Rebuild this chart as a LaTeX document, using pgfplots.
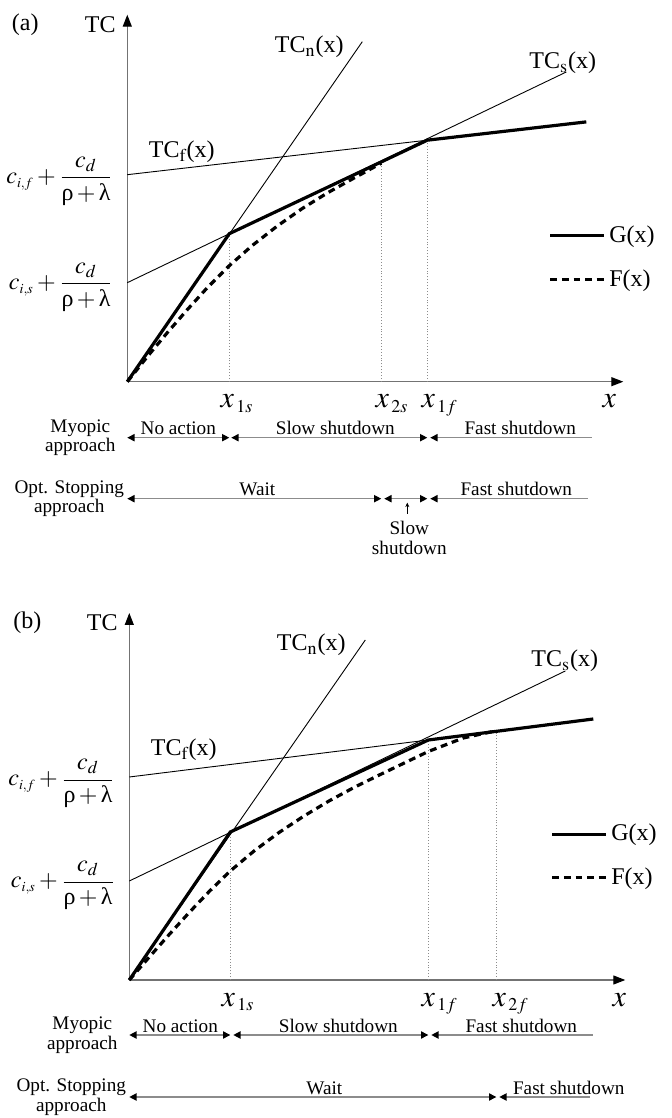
\documentclass[border=0pt]{standalone}
\usepackage{mathptmx}
\usepackage[no-math]{fontspec}
\setmainfont{Liberation Serif}
\usepackage{pgfplots}
\pgfplotsset{compat=1.18}
\usetikzlibrary{arrows.meta}

\newcommand\Lsize{\fontsize{12}{14}\selectfont}
\newcommand\Xsize{\fontsize{15}{17}\selectfont}
\newcommand\Rsize{\fontsize{9.6}{9.8}\selectfont}
\newcommand\Ylab[1]{$c_{\scriptscriptstyle i,#1}+\displaystyle\frac{c_d}{\mbox{ρ}+\mbox{λ}}$}
\newcommand\Xlab[1]{$x_{\,\scriptscriptstyle #1}$}

\tikzset{
  hd/.tip={Triangle[length=3.6pt,width=3.6pt,color=black]},
  rowline/.style={black!45, line width=0.6pt},
}
\pgfplotsset{
  panel/.style={
    x=0.5pt, y=0.5pt, xmin=0, xmax=496, ymin=0, ymax=367,
    axis lines*=left,
    axis line style={draw=black!55, line width=0.6pt, -{Triangle[length=6pt,width=4.5pt,color=black]}},
    xtick=\empty, ytick=\empty,
    clip=false, anchor=origin,
    legend style={draw=none, fill=none, at={(axis cs:421,124)}, anchor=west,
      font=\Lsize, row sep=8pt, inner sep=0pt, nodes={inner sep=2pt}},
    legend cell align=left,
    legend image code/.code={\draw[##1] (0pt,0pt) -- (26.7pt,0pt);},
  },
  Gline/.style={black, line width=1.6pt},
  Fline/.style={black, line width=1.6pt, dash pattern=on 3.4pt off 2.4pt},
  thinl/.style={black, line width=0.45pt},
  vline/.style={black!45, line width=0.45pt, densely dotted},
}

\begin{document}
\begin{tikzpicture}
\useasboundingbox (0,0) rectangle (335.5pt,559pt);

% ---------------- panel (a) ----------------
\begin{axis}[panel, at={(63.65pt,368.15pt)}]
\addplot[vline, forget plot] coordinates {(102,0) (102,148)};
\addplot[vline, forget plot] coordinates {(254,0) (254,219)};
\addplot[vline, forget plot] coordinates {(300,0) (300,241.5)};
\addplot[thinl, forget plot] coordinates {(0,0) (235,340)};
\addplot[thinl, forget plot] coordinates {(0,99) (439,309.7)};
\addplot[thinl, forget plot] coordinates {(0,207) (300,241.5)};
\addplot[Gline] coordinates {(0,0) (102,148) (300,241.5) (459,259.8)};
\addlegendentry{G(x)}
\addplot[Fline] coordinates {(0,0) (20,25) (40,49) (60,72) (80,94) (102,116) (125,136.2) (150,155.7) (175,173.2) (200,188.7) (225,202.7) (254,218.5)};
\addlegendentry{F(x)}

\node[font=\Lsize] at (axis cs:-102,357) {(a)};
\node[font=\Lsize] at (axis cs:-27,357) {TC};
\node[font=\Lsize] at (axis cs:182,335) {TC$_{\mathrm{n}}$(x)};
\node[font=\Lsize] at (axis cs:435.5,319) {TC$_{\mathrm{s}}$(x)};
\node[font=\Lsize] at (axis cs:54.5,230) {TC$_{\mathrm{f}}$(x)};
\node[font=\Lsize, anchor=base east, inner sep=0pt] at (axis cs:-14,198) {\Ylab{f}};
\node[font=\Lsize, anchor=base east, inner sep=0pt] at (axis cs:-14,92) {\Ylab{s}};

\node[font=\Xsize, anchor=base west, inner sep=0pt] at (axis cs:93,-26) {\Xlab{1s}};
\node[font=\Xsize, anchor=base west, inner sep=0pt] at (axis cs:248,-26) {\Xlab{2s}};
\node[font=\Xsize, anchor=base west, inner sep=0pt] at (axis cs:294,-26) {\Xlab{1f}};
\node[font=\Xsize, anchor=base, inner sep=0pt] at (axis cs:482,-26) {$x$};

% myopic row
\node[font=\Rsize, align=center] at (axis cs:-47,-56) {Myopic\\approach};
\draw[rowline, hd-hd] (axis cs:0,-56) -- (axis cs:102,-56);
\draw[rowline, hd-hd] (axis cs:104,-56) -- (axis cs:300,-56);
\draw[rowline, hd-] (axis cs:303,-56) -- (axis cs:465,-56);
\node[font=\Rsize, anchor=base] at (axis cs:51,-53) {No action};
\node[font=\Rsize, anchor=base] at (axis cs:208,-53) {Slow shutdown};
\node[font=\Rsize, anchor=base] at (axis cs:393,-53) {Fast shutdown};
% optimal stopping row
\node[font=\Rsize, align=center] at (axis cs:-58,-117) {Opt. Stopping\\approach};
\draw[rowline, hd-hd] (axis cs:0,-117) -- (axis cs:254,-117);
\draw[rowline, hd-hd] (axis cs:257,-117) -- (axis cs:300,-117);
\draw[rowline, hd-] (axis cs:303,-117) -- (axis cs:461,-117);
\node[font=\Rsize, anchor=base] at (axis cs:130,-114) {Wait};
\node[font=\Rsize, anchor=base] at (axis cs:389,-114) {Fast shutdown};
\draw[black, line width=0.3pt, -{Stealth[length=2.2pt,width=2pt]}] (axis cs:280,-132) -- (axis cs:280,-121);
\node[font=\Rsize, align=center] at (axis cs:282,-156) {Slow\\shutdown};
\end{axis}

% ---------------- panel (b) ----------------
\begin{axis}[panel, at={(64.65pt,69pt)}]
\addplot[vline, forget plot] coordinates {(101,0) (101,148)};
\addplot[vline, forget plot] coordinates {(299,0) (299,240)};
\addplot[vline, forget plot] coordinates {(367,0) (367,249)};
\addplot[thinl, forget plot] coordinates {(0,0) (236,340)};
\addplot[thinl, forget plot] coordinates {(0,99) (436,309)};
\addplot[thinl, forget plot] coordinates {(0,203) (299,240)};
\addplot[Gline] coordinates {(0,0) (101,148) (299,240) (464,261)};
\addlegendentry{G(x)}
\addplot[Fline] coordinates {(0,0) (20,23) (40,45.6) (60,67.6) (80,88.6) (100,108.2) (125,129.2) (150,147.7) (175,164.2) (200,179.2) (225,192.7) (250,205) (275,217) (299,228.5) (334,242) (367,249.3)};
\addlegendentry{F(x)}

\node[font=\Lsize] at (axis cs:-102,357) {(b)};
\node[font=\Lsize] at (axis cs:-27,357) {TC};
\node[font=\Lsize] at (axis cs:182,335) {TC$_{\mathrm{n}}$(x)};
\node[font=\Lsize] at (axis cs:435.5,319) {TC$_{\mathrm{s}}$(x)};
\node[font=\Lsize] at (axis cs:54.5,230) {TC$_{\mathrm{f}}$(x)};
\node[font=\Lsize, anchor=base east, inner sep=0pt] at (axis cs:-14,194) {\Ylab{f}};
\node[font=\Lsize, anchor=base east, inner sep=0pt] at (axis cs:-14,92) {\Ylab{s}};

\node[font=\Xsize, anchor=base west, inner sep=0pt] at (axis cs:92,-26) {\Xlab{1s}};
\node[font=\Xsize, anchor=base west, inner sep=0pt] at (axis cs:292,-26) {\Xlab{1f}};
\node[font=\Xsize, anchor=base west, inner sep=0pt] at (axis cs:363,-26) {\Xlab{2f}};
\node[font=\Xsize, anchor=base, inner sep=0pt] at (axis cs:490,-26) {$x$};

\node[font=\Rsize, align=center] at (axis cs:-47,-55) {Myopic\\approach};
\draw[rowline, hd-hd] (axis cs:0,-55) -- (axis cs:101,-55);
\draw[rowline, hd-hd] (axis cs:104,-55) -- (axis cs:299,-55);
\draw[rowline, hd-] (axis cs:302,-55) -- (axis cs:464,-55);
\node[font=\Rsize, anchor=base] at (axis cs:51,-52) {No action};
\node[font=\Rsize, anchor=base] at (axis cs:209,-52) {Slow shutdown};
\node[font=\Rsize, anchor=base] at (axis cs:392,-52) {Fast shutdown};
\node[font=\Rsize, align=center] at (axis cs:-58,-117) {Opt. Stopping\\approach};
\draw[rowline, hd-hd] (axis cs:0,-117) -- (axis cs:367,-117);
\draw[rowline, hd-] (axis cs:370,-117) -- (axis cs:461,-117);
\node[font=\Rsize, anchor=base] at (axis cs:195,-114) {Wait};
\node[font=\Rsize, anchor=base] at (axis cs:439.5,-114) {Fast shutdown};
\end{axis}
\end{tikzpicture}
\end{document}
